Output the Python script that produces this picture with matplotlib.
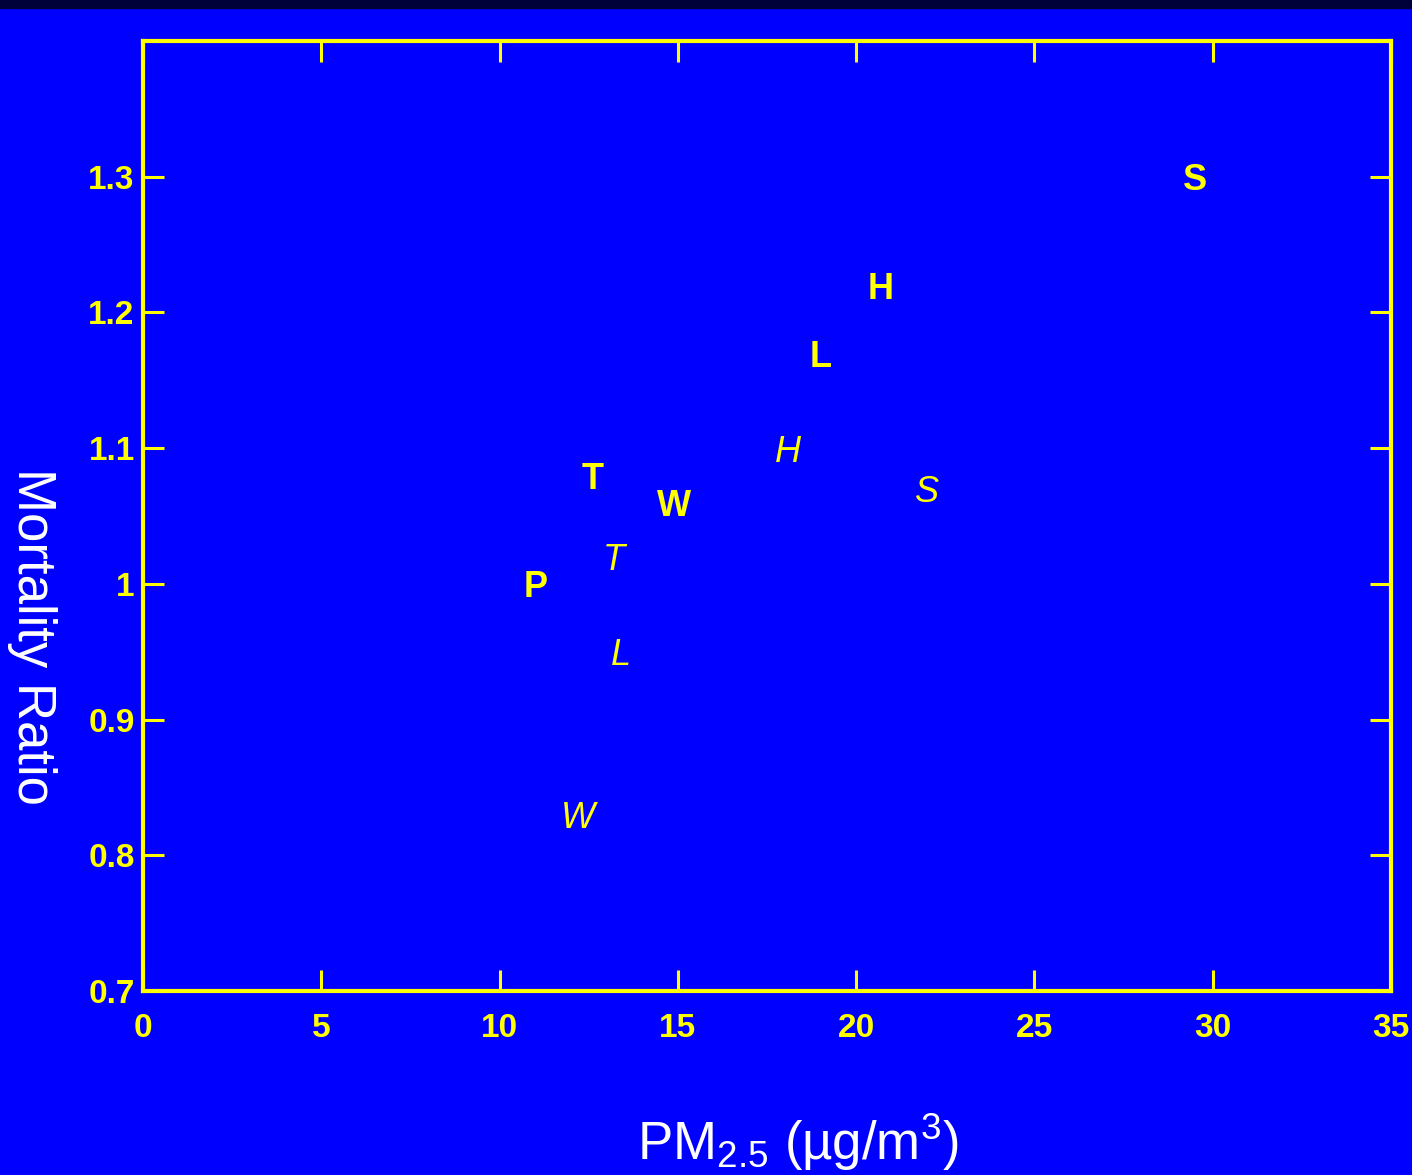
import matplotlib
matplotlib.use("Agg")
import matplotlib.pyplot as plt
from matplotlib.patches import Rectangle

# ── data ──────────────────────────────────────────────────────────
# bold letters (one cohort), italic letters (other cohort)
bold_labels = ["S", "H", "L", "T", "W", "P"]
bold_pm     = [29.5, 20.7, 19.0, 12.6, 14.9, 11.0]
bold_ratio  = [1.30, 1.22, 1.17, 1.08, 1.06, 1.00]

ital_labels = ["H", "S", "T", "L", "W"]
ital_pm     = [18.1, 22.0, 13.2, 13.4, 12.2]
ital_ratio  = [1.10, 1.07, 1.02, 0.95, 0.83]

xticks = [0, 5, 10, 15, 20, 25, 30, 35]
yticks = [0.7, 0.8, 0.9, 1.0, 1.1, 1.2, 1.3]
ytick_labels = ["0.7", "0.8", "0.9", "1", "1.1", "1.2", "1.3"]

BLUE   = "#0000FF"
YELLOW = "#FFFF00"
NAVY   = "#00003A"

plt.rcParams["font.family"] = ["Liberation Sans", "DejaVu Sans"]
plt.rcParams["mathtext.fontset"] = "custom"
plt.rcParams["mathtext.rm"] = "Liberation Sans"
plt.rcParams["mathtext.it"] = "Liberation Sans:italic"

fig = plt.figure(figsize=(14.12, 11.75), dpi=100, facecolor=BLUE)
fig.patches.append(Rectangle((0, 1 - 8 / 1175), 1, 8 / 1175,
                             transform=fig.transFigure, color=NAVY, zorder=0))

ax = fig.add_axes([0.1013, 0.1566, 0.8838, 0.8085])
ax.set_facecolor(BLUE)
ax.set_xlim(0, 35)
ax.set_ylim(0.7, 1.4)

for sp in ax.spines.values():
    sp.set_color(YELLOW)
    sp.set_linewidth(3)

ax.set_xticks(xticks)
ax.set_yticks(yticks)
ax.set_yticklabels(ytick_labels)
ax.tick_params(direction="in", length=15, width=2.2, colors=YELLOW,
               top=True, right=True, labelsize=24)
ax.tick_params(axis="x", pad=16)
ax.tick_params(axis="y", pad=6)
for lab in ax.get_xticklabels() + ax.get_yticklabels():
    lab.set_fontweight("bold")

for lab, x, y in zip(bold_labels, bold_pm, bold_ratio):
    ax.text(x, y, lab, color=YELLOW, fontsize=26, fontweight="bold",
            ha="center", va="center_baseline")
for lab, x, y in zip(ital_labels, ital_pm, ital_ratio):
    ax.text(x, y, lab, color=YELLOW, fontsize=26, fontstyle="italic",
            ha="center", va="center_baseline")

fig.text(32 / 1412, 1 - 636 / 1175, "Mortality Ratio", color="white",
         fontsize=38, rotation=270, ha="center", va="center")
fig.text(798 / 1412, 1 - 1142 / 1175, "PM$_{2.5}$ (\u00b5g/m$^3$)",
         color="white", fontsize=38, ha="center", va="center")

fig.savefig("out.png", dpi=100, facecolor=BLUE)
